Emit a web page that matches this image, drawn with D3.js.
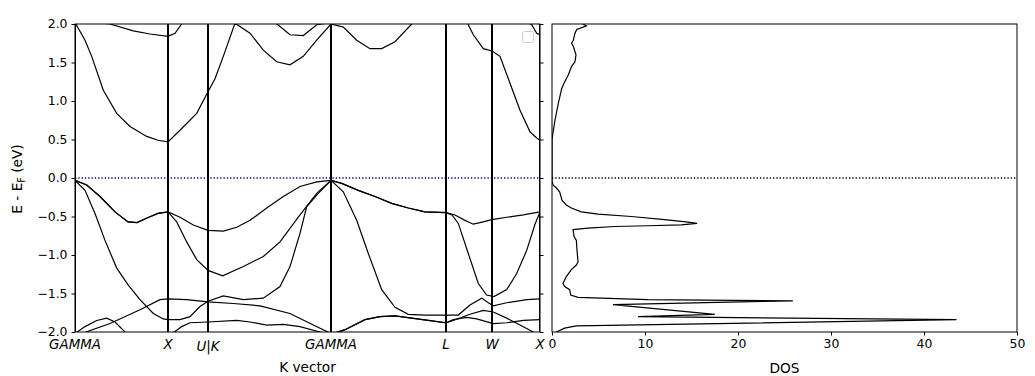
<!DOCTYPE html>
<html>
<head>
<meta charset="utf-8">
<script src="https://cdn.jsdelivr.net/npm/d3@7"></script>
<style>
  body { margin: 0; background: #fff; }
  svg { display: block; font-family: "DejaVu Sans", sans-serif; }
</style>
</head>
<body>
<div id="chart"></div>
<script>
// high symmetry points along the k-path (path distance, arbitrary units)
var kTicks = [0, 93, 133, 256, 371, 417, 465];
var kLabels = ["GAMMA", "X", "U|K", "GAMMA", "L", "W", "X"];

// energy ticks (eV) and DOS ticks
var eTicks = [-2.0, -1.5, -1.0, -0.5, 0.0, 0.5, 1.0, 1.5, 2.0];
var dosTicks = [0, 10, 20, 30, 40, 50];

// bands as [k, E - Ef] pairs
var cbA = [[0,2.02],[10,1.79],[16.7,1.58],[28.3,1.14],[41.7,0.84],[55,0.67],[71.7,0.54],[83,0.49],[93,0.47],
  [105,0.62],[121.7,0.84],[133,1.12],[140,1.29],[148.3,1.58],[160,2.01],[175,1.88],[188.3,1.66],[201.7,1.51],
  [215,1.47],[228.3,1.58],[241.7,1.79],[256,2.0],[268.3,1.96],[281.7,1.79],[295,1.68],[306.7,1.68],[320,1.77],
  [336.7,2.0],[350,2.15],[371,2.3],[385,2.15],[393.3,1.99],[398.3,1.86],[408.3,1.68],[417,1.65],[425,1.58],
  [435,1.23],[445,0.88],[455,0.60],[461.7,0.52],[465,0.49]];
var cbB = [[0,2.04],[20,2.02],[35,2.0],[58.3,1.91],[75,1.87],[93,1.84],[100,1.88],[106.7,2.0],[120,2.2],
  [133,2.3],[185,2.2],[201,2.01],[215,1.86],[228.3,1.85],[241.7,1.99],[256,2.02],[305,2.4],[371,2.5],
  [425,2.3],[445,2.1],[456.7,1.99],[461.7,1.88],[465,1.86]];
var vb1 = [[0,-0.03],[11.7,-0.09],[25,-0.24],[40,-0.44],[53,-0.57],[62,-0.58],[72,-0.52],[83,-0.46],[93,-0.44],
  [105,-0.51],[118.3,-0.61],[133,-0.68],[148.3,-0.69],[161.7,-0.64],[175,-0.55],[191.7,-0.39],[208.3,-0.24],
  [225,-0.11],[241.7,-0.05],[256,-0.03],[266.7,-0.07],[283.3,-0.16],[300,-0.24],[316.7,-0.33],[333.3,-0.39],
  [350,-0.44],[371,-0.45],[380,-0.48],[390,-0.55],[398.3,-0.60],[405,-0.58],[417,-0.54],[431.7,-0.51],
  [448.3,-0.48],[465,-0.44]];
var vb2 = [[0,-0.03],[11.7,-0.09],[25,-0.24],[40,-0.44],[53,-0.57],[62,-0.58],[72,-0.52],[83,-0.46],[93,-0.44],
  [101.7,-0.57],[111.7,-0.83],[121.7,-1.06],[133,-1.2],[147.7,-1.27],[168.3,-1.15],[188.3,-1.02],[205,-0.83],
  [225,-0.48],[241.7,-0.20],[256,-0.03],[266.7,-0.07],[283.3,-0.16],[300,-0.24],[316.7,-0.33],[333.3,-0.39],
  [350,-0.44],[371,-0.45],[377,-0.48],[383.3,-0.59],[393.3,-0.98],[403.3,-1.37],[411.7,-1.52],[419,-1.54],
  [431.7,-1.45],[441.7,-1.24],[451.7,-0.94],[460,-0.60],[465,-0.44]];
var vb3 = [[0,-0.03],[10,-0.16],[20,-0.46],[30,-0.81],[41.7,-1.17],[53.3,-1.39],[65,-1.58],[78.3,-1.76],
  [88.3,-1.83],[93,-1.84],[105,-1.84],[115,-1.80],[125,-1.67],[133,-1.60],[148.3,-1.53],[168.3,-1.58],
  [188.3,-1.56],[205,-1.41],[215,-1.15],[225,-0.72],[231.7,-0.37],[243.3,-0.20],[256,-0.03],[268.3,-0.18],
  [281.7,-0.55],[293.3,-0.98],[306.7,-1.45],[320,-1.68],[333.3,-1.77],[350,-1.78],[371,-1.78],[383.3,-1.78],
  [395,-1.65],[406.7,-1.56],[413.3,-1.62],[418.3,-1.66],[431.7,-1.62],[451.7,-1.58],[465,-1.57]];
var vb4 = [[0,-2.15],[11,-2.0],[35,-1.89],[65,-1.71],[85,-1.58],[93,-1.57],[111.7,-1.58],[133,-1.61],
  [158.3,-1.63],[185,-1.66],[215,-1.76],[238.3,-1.91],[253,-2.0],[256,-2.03],[270,-1.97],[290,-1.84],
  [305,-1.80],[320,-1.79],[336.7,-1.82],[353.3,-1.85],[371,-1.88],[378.3,-1.84],[391.7,-1.81],[401.7,-1.83],
  [418.3,-1.89],[431.7,-1.88],[448.3,-1.85],[465,-1.84]];
var vb5 = [[0,-2.02],[10,-1.93],[21.7,-1.85],[31.7,-1.82],[40,-1.87],[50,-2.0],[65,-2.15],[93,-2.06],
  [106.7,-1.93],[115,-1.88],[133,-1.87],[161.7,-1.85],[175,-1.87],[191.7,-1.91],[208.3,-1.90],[225,-1.93],
  [245,-2.0],[256,-2.03],[270,-1.97],[290,-1.84],[305,-1.80],[320,-1.79],[336.7,-1.82],[353.3,-1.85],
  [371,-1.88],[378.3,-1.85],[395,-1.77],[408.3,-1.72],[418.3,-1.74],[431.7,-1.82],[445,-1.91],[458.3,-2.0],
  [465,-2.06]];
var bands = [cbA, cbB, vb1, vb2, vb3, vb4, vb5];

// total density of states
var dosEnergy = [2.01, 1.975, 1.93, 1.88, 1.79, 1.75, 1.71, 1.60, 1.51, 1.45, 1.34, 1.23, 1.16, 0.97, 0.75,
  0.56, 0.49, -0.04, -0.09, -0.13, -0.18, -0.29, -0.35, -0.39, -0.44, -0.47, -0.50, -0.54, -0.57, -0.59,
  -0.61, -0.62, -0.63, -0.65, -0.67, -0.76, -0.81, -0.94, -1.09, -1.13, -1.19, -1.28, -1.37, -1.41, -1.45,
  -1.52, -1.55, -1.58, -1.595, -1.645, -1.77, -1.80, -1.84, -1.92, -1.95, -2.0, -2.03];
var dosValue = [3.2, 3.7, 2.66, 2.47, 2.29, 2.11, 2.29, 2.58, 2.47, 2.11, 1.76, 1.29, 1.04, 0.68, 0.32,
  0.07, 0, 0, 0.11, 0.47, 0.82, 1.08, 1.54, 2.08, 3.15, 4.95, 8.53, 12.1, 14.4, 15.6,
  13.9, 10.3, 6.74, 3.87, 2.26, 2.37, 2.62, 2.69, 2.80, 2.62, 2.08, 1.54, 1.18, 1.36, 1.90,
  2.01, 2.80, 10.3, 25.9, 6.56, 17.5, 9.25, 43.5, 2.6, 1.36, 0.47, 0.1];

var width = 1035, height = 376;
var plotTop = 24, plotBottom = 332;
var bandBox = {left: 75, right: 540};
var dosBox = {left: 552, right: 1017};

var svg = d3.select("#chart").append("svg")
  .attr("width", width)
  .attr("height", height);

var defs = svg.append("defs");
defs.append("clipPath").attr("id", "clip-band")
  .append("rect").attr("x", bandBox.left).attr("y", plotTop)
  .attr("width", bandBox.right - bandBox.left).attr("height", plotBottom - plotTop);
defs.append("clipPath").attr("id", "clip-dos")
  .append("rect").attr("x", dosBox.left).attr("y", plotTop)
  .attr("width", dosBox.right - dosBox.left).attr("height", plotBottom - plotTop);

var yScale = d3.scaleLinear().domain([-2, 2]).range([plotBottom, plotTop]);
var kScale = d3.scaleLinear().domain([0, 465]).range([bandBox.left, bandBox.right]);
var dosScale = d3.scaleLinear().domain([0, 50]).range([dosBox.left, dosBox.right]);

// ---- band structure panel
var bandLine = d3.line()
  .x(function(d) { return kScale(d[0]); })
  .y(function(d) { return yScale(d[1]); });

var bandG = svg.append("g").attr("clip-path", "url(#clip-band)");

bandG.append("line")
  .attr("x1", bandBox.left).attr("x2", bandBox.right)
  .attr("y1", yScale(0)).attr("y2", yScale(0))
  .attr("stroke", "#000080").attr("stroke-width", 1.3)
  .attr("stroke-dasharray", "1.3,2");

bandG.selectAll("path.band")
  .data(bands)
  .enter().append("path")
  .attr("class", "band")
  .attr("d", bandLine)
  .attr("fill", "none")
  .attr("stroke", "#000")
  .attr("stroke-width", 1.2);

bandG.selectAll("line.kline")
  .data(kTicks)
  .enter().append("line")
  .attr("class", "kline")
  .attr("x1", function(d) { return kScale(d); })
  .attr("x2", function(d) { return kScale(d); })
  .attr("y1", plotTop).attr("y2", plotBottom)
  .attr("stroke", "#000").attr("stroke-width", 2);

// empty legend frame
svg.append("rect")
  .attr("x", 522.5).attr("y", 31.5).attr("width", 11).attr("height", 11)
  .attr("rx", 2).attr("fill", "#fff").attr("fill-opacity", 0.8)
  .attr("stroke", "#ccc").attr("stroke-width", 1);

// y axis on the left, bare ticks on the right
svg.append("g")
  .attr("transform", "translate(" + bandBox.left + ",0)")
  .call(d3.axisLeft(yScale).tickValues(eTicks).tickFormat(d3.format(".1f"))
    .tickSizeInner(3.5).tickSizeOuter(0).tickPadding(4))
  .call(function(g) {
    g.select(".domain").remove();
    g.selectAll("text").attr("font-size", 12.4).attr("fill", "#000")
      .attr("font-family", "DejaVu Sans");
  });

svg.append("g")
  .attr("transform", "translate(" + bandBox.right + ",0)")
  .call(d3.axisRight(yScale).tickValues(eTicks).tickFormat("")
    .tickSizeInner(3.5).tickSizeOuter(0))
  .call(function(g) { g.select(".domain").remove(); });

svg.append("rect")
  .attr("x", bandBox.left).attr("y", plotTop)
  .attr("width", bandBox.right - bandBox.left).attr("height", plotBottom - plotTop)
  .attr("fill", "none").attr("stroke", "#000").attr("stroke-width", 1);

svg.append("g").selectAll("text")
  .data(kTicks)
  .enter().append("text")
  .attr("x", function(d) { return kScale(d); })
  .attr("y", function(d, i) { return kLabels[i] === "U|K" ? 351.3 : 349; })
  .attr("text-anchor", "middle")
  .attr("font-size", 13.4)
  .attr("font-style", "italic")
  .text(function(d, i) { return kLabels[i]; });

svg.append("text")
  .attr("x", (bandBox.left + bandBox.right) / 2).attr("y", 372)
  .attr("text-anchor", "middle").attr("font-size", 13.7)
  .text("K vector");

var yLabel = svg.append("text")
  .attr("transform", "translate(22,179) rotate(-90)")
  .attr("text-anchor", "middle").attr("font-size", 13.7);
yLabel.append("tspan").text("E - E");
yLabel.append("tspan").attr("font-size", 9.6).attr("dy", 3).text("F");
yLabel.append("tspan").attr("dy", -3).text(" (eV)");

// ---- density of states panel
var dosPoints = dosEnergy.map(function(e, i) { return [dosValue[i], e]; });
var dosLine = d3.line()
  .x(function(d) { return dosScale(d[0]); })
  .y(function(d) { return yScale(d[1]); });

var dosG = svg.append("g").attr("clip-path", "url(#clip-dos)");

dosG.append("line")
  .attr("x1", dosBox.left).attr("x2", dosBox.right)
  .attr("y1", yScale(0)).attr("y2", yScale(0))
  .attr("stroke", "#000").attr("stroke-width", 1.3)
  .attr("stroke-dasharray", "1.3,2");

dosG.append("path")
  .datum(dosPoints)
  .attr("d", dosLine)
  .attr("fill", "none")
  .attr("stroke", "#000")
  .attr("stroke-width", 1.2);

svg.append("g")
  .attr("transform", "translate(0," + plotBottom + ")")
  .call(d3.axisBottom(dosScale).tickValues(dosTicks).tickFormat(d3.format("d"))
    .tickSizeInner(3.5).tickSizeOuter(0).tickPadding(4))
  .call(function(g) {
    g.select(".domain").remove();
    g.selectAll("text").attr("font-size", 12.4).attr("fill", "#000")
      .attr("font-family", "DejaVu Sans");
  });

svg.append("rect")
  .attr("x", dosBox.left).attr("y", plotTop)
  .attr("width", dosBox.right - dosBox.left).attr("height", plotBottom - plotTop)
  .attr("fill", "none").attr("stroke", "#000").attr("stroke-width", 1);

svg.append("text")
  .attr("x", (dosBox.left + dosBox.right) / 2).attr("y", 373)
  .attr("text-anchor", "middle").attr("font-size", 13.7)
  .text("DOS");
</script>
</body>
</html>
